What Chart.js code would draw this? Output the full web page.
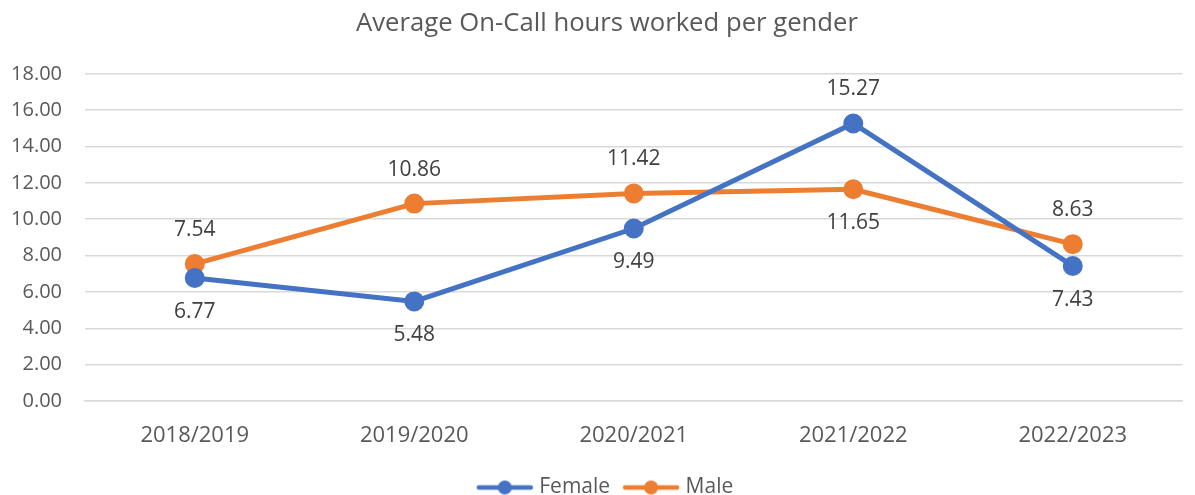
<!DOCTYPE html>
<html>
<head>
<meta charset="utf-8">
<script src="https://cdn.jsdelivr.net/npm/chart.js@4"></script>
<style>
  html, body { margin: 0; padding: 0; background: #fff; }
  #wrap { width: 1195px; height: 495px; }
</style>
</head>
<body>
<div id="wrap"><canvas id="chart"></canvas></div>
<script>
var years = ['2018/2019', '2019/2020', '2020/2021', '2021/2022', '2022/2023'];
var female = [6.77, 5.48, 9.49, 15.27, 7.43];
var male = [7.54, 10.86, 11.42, 11.65, 8.63];

var FONT = '"Open Sans", "Liberation Sans", sans-serif';
var BLUE = '#4472C4';
var ORANGE = '#ED7D31';

// label side per point: 1 = above, -1 = below
var femaleSide = [-1, -1, -1, 1, -1];
var maleSide = [1, 1, 1, -1, 1];

// line + dot icon for the legend
function legendIcon(color) {
    var c = document.createElement('canvas');
    c.width = 58; c.height = 16;
    var g = c.getContext('2d');
    g.strokeStyle = color;
    g.lineWidth = 4.5;
    g.lineCap = 'round';
    g.beginPath(); g.moveTo(3, 8); g.lineTo(55, 8); g.stroke();
    g.fillStyle = color;
    g.beginPath(); g.arc(29, 8, 7, 0, Math.PI * 2); g.fill();
    return c;
}

var valueLabels = {
    id: 'valueLabels',
    afterDatasetsDraw: function (chart) {
        var ctx = chart.ctx;
        ctx.save();
        ctx.font = '21px ' + FONT;
        ctx.fillStyle = '#404040';
        ctx.textAlign = 'center';
        ctx.textBaseline = 'middle';
        chart.data.datasets.forEach(function (ds, i) {
            var meta = chart.getDatasetMeta(i);
            meta.data.forEach(function (pt, j) {
                var side = ds.labelSide[j];
                ctx.fillText(ds.data[j].toFixed(2), pt.x, pt.y - side * 34);
            });
        });
        ctx.restore();
    }
};

// title and legend sit a little right of the canvas centre in the original
var nudge = {
    id: 'nudge',
    afterLayout: function (chart) {
        if (chart.titleBlock) chart.titleBlock.left += 20;
        if (chart.legend) chart.legend.left += 20;
    }
};

new Chart(document.getElementById('chart').getContext('2d'), {
    type: 'line',
    data: {
        labels: years,
        datasets: [{
            label: 'Female',
            data: female,
            labelSide: femaleSide,
            borderColor: BLUE,
            backgroundColor: BLUE,
            borderWidth: 5,
            pointRadius: 7.5,
            pointHoverRadius: 7.5,
            tension: 0
        }, {
            label: 'Male',
            data: male,
            labelSide: maleSide,
            borderColor: ORANGE,
            backgroundColor: ORANGE,
            borderWidth: 5,
            pointRadius: 7.5,
            pointHoverRadius: 7.5,
            tension: 0
        }]
    },
    options: {
        responsive: true,
        maintainAspectRatio: false,
        animation: false,
        layout: { padding: { left: 8, right: 9, top: 6, bottom: -13 } },
        plugins: {
            title: {
                display: true,
                text: 'Average On-Call hours worked per gender',
                color: '#595959',
                font: { family: FONT, size: 25.7, weight: 'normal', lineHeight: 1.2 },
                padding: { top: 2, bottom: 35 }
            },
            legend: {
                position: 'bottom',
                labels: {
                    usePointStyle: true,
                    pointStyleWidth: 48,
                    boxHeight: 16,
                    color: '#595959',
                    font: { family: FONT, size: 21, lineHeight: 1 },
                    padding: 17,
                    generateLabels: function (chart) {
                        return chart.data.datasets.map(function (ds, i) {
                            return {
                                text: ds.label,
                                pointStyle: legendIcon(ds.borderColor),
                                fillStyle: ds.borderColor,
                                strokeStyle: ds.borderColor,
                                lineWidth: 0,
                                fontColor: '#595959',
                                datasetIndex: i
                            };
                        });
                    }
                }
            },
            tooltip: { enabled: false }
        },
        scales: {
            x: {
                offset: true,
                grid: { display: false },
                border: { color: '#d9d9d9', width: 1.5 },
                afterFit: function (axis) { axis.height = 59; },
                ticks: { color: '#595959', font: { family: FONT, size: 22 }, padding: 14 }
            },
            y: {
                min: 0,
                max: 18,
                border: { display: false },
                grid: { color: '#d9d9d9', lineWidth: 1.5, drawTicks: false },
                afterFit: function (axis) { axis.width = 77; },
                ticks: {
                    stepSize: 2,
                    color: '#595959',
                    font: { family: FONT, size: 20 },
                    padding: 23,
                    callback: function (v) { return v.toFixed(2); }
                }
            }
        }
    },
    plugins: [valueLabels, nudge]
});
</script>
</body>
</html>
